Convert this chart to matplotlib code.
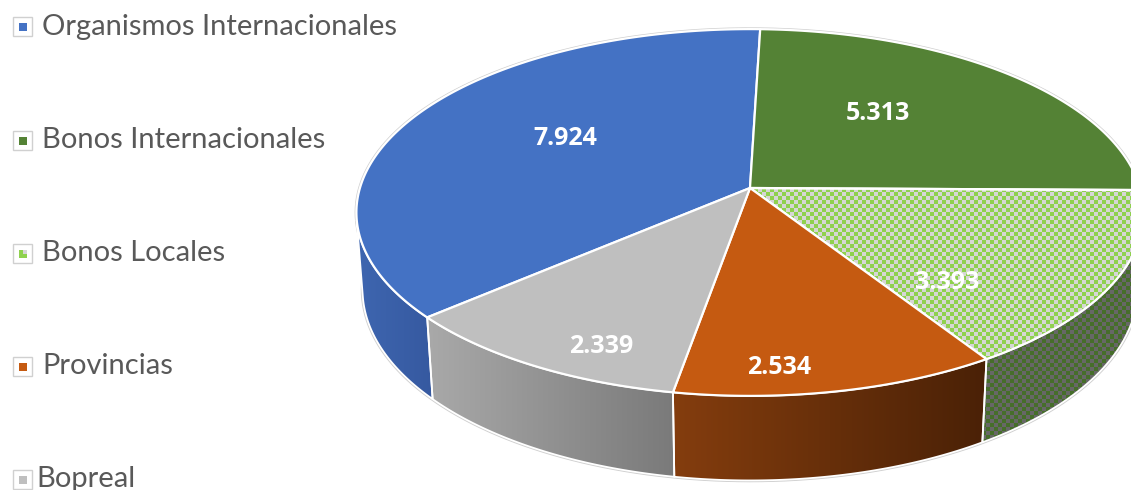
import numpy as np
import matplotlib.pyplot as plt
from matplotlib.patches import Polygon, Rectangle
from matplotlib.colors import to_rgb

# Datos del grafico
categorias = ['Organismos Internacionales', 'Bonos Internacionales',
              'Bonos Locales', 'Provincias', 'Bopreal']
valores = [7924, 5313, 3393, 2534, 2339]

# Estilo de cada porcion (None = damero)
color_sup = ['#4472c4', '#548235', None, '#c55a11', '#bfbfbf']
grad_lado = [('#3e66b0', '#3659a0'), ('#4a7530', '#3c5f27'), None,
             ('#843d0e', '#4a2106'), ('#a9a9a9', '#7a7a7a')]
damero_sup = ('#8fd14f', '#d6d6d6')
damero_lado = ('#466e2a', '#676767')

# Ajuste de la posicion de las etiquetas (grados, fraccion de radio)
desp_ang = [-5, 8, -17, -7, 6]
radio_etq = [0.57, 0.56, 0.68, 0.88, 0.86]

W, H = 1131, 490
CX, CY = 750, 188
ELEV = np.radians(27.5)
D = 6.64
K = 2590
ALTO = 0.225
GIRO = -1.7
S, C = np.sin(ELEV), np.cos(ELEV)


def proyectar(x, y, z=0.0):
    prof = D + y * C - z * S
    arriba = y * S + z * C
    return CX + K * x / prof, CY - K * arriba / prof


def arco(a0, a1, z=0.0, n=200):
    t = np.radians(np.linspace(a0, a1, n))
    xs, ys = proyectar(np.cos(t), np.sin(t), z)
    return np.column_stack([xs, ys])


def damero(ax, poly, c1, c2, celda=4, zorder=1):
    x0, y0 = np.floor(poly.min(axis=0))
    x1, y1 = np.ceil(poly.max(axis=0))
    nx = int((x1 - x0) / celda) + 2
    ny = int((y1 - y0) / celda) + 2
    ii, jj = np.indices((ny, nx))
    m = ((ii + jj) % 2)[..., None]
    img = np.where(m, np.array(to_rgb(c1)), np.array(to_rgb(c2)))
    parche = Polygon(poly, closed=True, facecolor='none', edgecolor='none')
    ax.add_patch(parche)
    im = ax.imshow(img, extent=(x0, x0 + nx * celda, y0 + ny * celda, y0),
                   interpolation='nearest', zorder=zorder, aspect='auto')
    im.set_clip_path(parche)


def gradiente(ax, poly, c1, c2, zorder=1):
    x0, y0 = poly.min(axis=0)
    x1, y1 = poly.max(axis=0)
    f = np.linspace(0, 1, 256)[None, :, None]
    img = (1 - f) * np.array(to_rgb(c1)) + f * np.array(to_rgb(c2))
    parche = Polygon(poly, closed=True, facecolor='none', edgecolor='none')
    ax.add_patch(parche)
    im = ax.imshow(img, extent=(x0, x1, y1, y0), interpolation='bilinear',
                   zorder=zorder, aspect='auto')
    im.set_clip_path(parche)


fig = plt.figure(figsize=(W / 100, H / 100), dpi=100)
ax = fig.add_axes([0, 0, 1, 1])

total = sum(valores)
inicio = 90 + 360 * valores[0] / total + GIRO
limite = -1 / (D * C)  # sin(t) por debajo de esto: pared visible

angulos = []
a = inicio
for v in valores:
    b = a - 360 * v / total
    angulos.append((a, b))
    a = b

# Paredes laterales
for i, (a0, a1) in enumerate(angulos):
    t = np.linspace(a0, a1, 600)
    vis = np.sin(np.radians(t)) < limite
    if not vis.any():
        continue
    tv = t[vis]
    sup = arco(tv[0], tv[-1], 0.0)
    inf = arco(tv[0], tv[-1], -ALTO)
    poly = np.vstack([sup, inf[::-1]])
    if grad_lado[i] is None:
        damero(ax, poly, *damero_lado, zorder=1)
    else:
        gradiente(ax, poly, *grad_lado[i], zorder=1)
    ax.add_patch(Polygon(poly, closed=True, facecolor='none',
                         edgecolor='white', lw=1.3, zorder=2))

# contorno exterior tenue
t = np.linspace(0, 360, 721)
ax.plot(*arco(0, 360, 0.0, 721).T, color='#cfcfcf', lw=2.6, zorder=0.5)
ax.plot(*arco(180, 360, -ALTO, 361).T, color='#cfcfcf', lw=2.6, zorder=0.5)

# Caras superiores
for i, (a0, a1) in enumerate(angulos):
    poly = np.vstack([[proyectar(0, 0)], arco(a0, a1)])
    if color_sup[i] is None:
        damero(ax, poly, *damero_sup, zorder=3)
        ax.add_patch(Polygon(poly, closed=True, facecolor='none',
                             edgecolor='white', lw=1.6, zorder=4,
                             joinstyle='round'))
    else:
        ax.add_patch(Polygon(poly, closed=True, facecolor=color_sup[i],
                             edgecolor='white', lw=1.6, zorder=4,
                             joinstyle='round'))

# Etiquetas de datos
for i, (a0, a1) in enumerate(angulos):
    t = np.radians((a0 + a1) / 2 + desp_ang[i])
    r = radio_etq[i]
    x, y = proyectar(r * np.cos(t), r * np.sin(t))
    ax.text(x, y, f'{valores[i]:,}'.replace(',', '.'), color='white',
            fontsize=18, fontweight='bold', family='Open Sans',
            ha='center', va='center', zorder=6)

# Leyenda
for i, nombre in enumerate(categorias):
    yc = 27 + i * 113
    ax.add_patch(Rectangle((13, yc - 9.5), 19, 19, facecolor='white',
                           edgecolor='#d0d0d0', lw=1, zorder=5))
    if color_sup[i] is None:
        ax.add_patch(Rectangle((18.5, yc - 3.5), 8, 8, facecolor=damero_sup[0],
                               edgecolor='none', zorder=6))
        ax.add_patch(Rectangle((22.5, yc - 3.5), 4, 4, facecolor=damero_sup[1],
                               edgecolor='none', zorder=6))
    else:
        ax.add_patch(Rectangle((18.5, yc - 3.5), 8, 8, facecolor=color_sup[i],
                               edgecolor='none', zorder=6))
    xt = 42 if i < len(categorias) - 1 else 36
    ax.text(xt, yc, nombre, color='#595959', fontsize=21, family='Lato',
            ha='left', va='center', zorder=6)

ax.set_xlim(0, W)
ax.set_ylim(H, 0)
ax.axis('off')
fig.savefig('out.png', dpi=100)
